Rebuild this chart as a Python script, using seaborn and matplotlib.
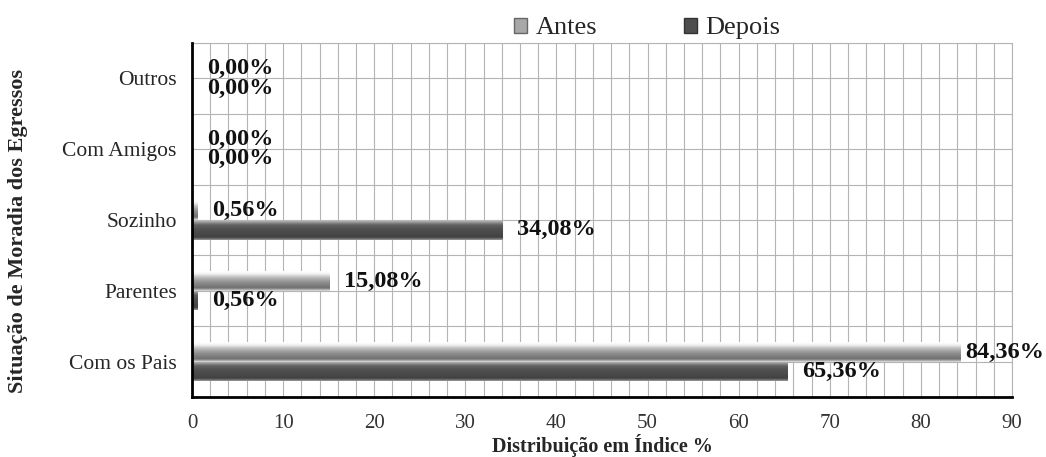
import numpy as np
import pandas as pd
import matplotlib
matplotlib.use("Agg")
import matplotlib.pyplot as plt
from matplotlib.patches import Patch
from matplotlib.ticker import MultipleLocator, FixedLocator
import seaborn as sns

categories = ["Outros", "Com Amigos", "Sozinho", "Parentes", "Com os Pais"]
antes = [0.00, 0.00, 0.56, 15.08, 84.36]
depois = [0.00, 0.00, 34.08, 0.56, 65.36]
series = ["Antes", "Depois"]
xticks = [0, 10, 20, 30, 40, 50, 60, 70, 80, 90]

df = pd.DataFrame({
    "cat": categories * 2,
    "serie": [series[0]] * len(categories) + [series[1]] * len(categories),
    "val": antes + depois,
})

sns.set_theme(style="white")
plt.rcParams["font.family"] = ["Liberation Serif", "DejaVu Serif"]

fig = plt.figure(figsize=(10.46, 4.57), dpi=100)
ax = fig.add_axes([0.1836, 0.131, 0.7839, 0.775])

palette = {"Antes": "#a8a8a8", "Depois": "#4e4e4e"}
sns.barplot(data=df, y="cat", x="val", hue="serie", order=categories,
            hue_order=series, palette=palette, orient="h", width=0.55,
            ax=ax, legend=False, saturation=1, linewidth=0, zorder=3)

# gradients on bars
grad_antes = np.array([0.99, 0.97, 0.92, 0.84, 0.76, 0.7, 0.65, 0.6, 0.56, 0.53, 0.5, 0.47, 0.45, 0.58, 0.82])
grad_depois = np.array([0.72, 0.62, 0.5, 0.4, 0.36, 0.34, 0.32, 0.31, 0.3, 0.29, 0.28, 0.27, 0.26, 0.33, 0.55])
n = len(categories)
for i, p in enumerate(ax.patches[:2 * n]):
    g = grad_antes if i < n else grad_depois
    x0, y0 = p.get_x(), p.get_y()
    w, h = p.get_width(), p.get_height()
    if w <= 0:
        continue
    img = np.tile(g[:, None], (1, 2))
    im = ax.imshow(img, cmap="gray", vmin=0, vmax=1, aspect="auto",
                   extent=(x0, x0 + w, y0 + h, y0), zorder=4,
                   interpolation="bilinear")
    im.set_clip_path(p)

ax.set_xlim(0, 90)
ax.set_ylim(n - 0.5, -0.5)
ax.set_xticks(xticks)
ax.xaxis.set_minor_locator(MultipleLocator(2))
ax.yaxis.set_minor_locator(FixedLocator(np.arange(-0.5, n, 1.0)))
ax.set_yticks(range(n))
ax.set_yticklabels(categories, fontsize=15.5)
ax.tick_params(axis="y", which="major", length=0, pad=11)
ax.tick_params(axis="y", which="minor", length=10, width=2, direction="inout", color="black")
ax.tick_params(axis="x", which="major", length=10, width=2, direction="inout", color="black",
               labelsize=15, pad=7)
ax.tick_params(axis="x", which="minor", length=0)
for lab in ax.get_xticklabels():
    lab.set_color("#333333")

ax.grid(True, axis="x", which="both", color="#b4b4b4", linewidth=0.8, zorder=0)
ax.grid(True, axis="y", which="both", color="#b4b4b4", linewidth=0.8, zorder=0)
ax.set_axisbelow(True)

for s in ["left", "bottom"]:
    ax.spines[s].set_color("black")
    ax.spines[s].set_linewidth(2)
    ax.spines[s].set_zorder(6)
for s in ["top", "right"]:
    ax.spines[s].set_color("#b4b4b4")
    ax.spines[s].set_linewidth(0.8)

ax.set_xlabel("Distribuição em Índice %", fontsize=14.5, fontweight="bold", va="center")
ax.set_ylabel("Situação de Moradia dos Egressos", fontsize=16, fontweight="bold", va="center")
ax.xaxis.set_label_coords(0.5, -0.137)
ax.yaxis.set_label_coords(-0.212, 0.47)

# value labels
texts = []
for i, p in enumerate(ax.patches[:2 * n]):
    vals = antes if i < n else depois
    v = vals[i % n]
    t = ax.annotate(f"{v:.2f}%".replace(".", ","),
                    xy=(p.get_x() + p.get_width(), p.get_y() + p.get_height() / 2),
                    xytext=(10.5, 0), textcoords="offset points", ha="left", va="center",
                    fontsize=17.5, fontweight="bold", color="#111111", zorder=7,
                    annotation_clip=False)
    texts.append(t)

handles = [Patch(facecolor="#a8a8a8", edgecolor="#666666"),
           Patch(facecolor="#4e4e4e", edgecolor="#333333")]
ax.legend(handles, series, loc="lower center", bbox_to_anchor=(0.555, 1.01), ncol=2,
          frameon=False, fontsize=19, columnspacing=3.3, handlelength=0.5, handleheight=0.5,
          handletextpad=0.3, borderaxespad=0, borderpad=0)

# keep labels inside the figure (like the reference does for the longest bar)
fig.canvas.draw()
r = fig.canvas.get_renderer()
W = fig.bbox.width
for t in texts:
    bb = t.get_window_extent(r)
    if bb.x1 > W - 2:
        shift_pt = (bb.x1 - (W - 2)) * 72 / fig.dpi
        x, y = t.xyann
        t.xyann = (x - shift_pt, y)

fig.savefig("out.png", dpi=100)
